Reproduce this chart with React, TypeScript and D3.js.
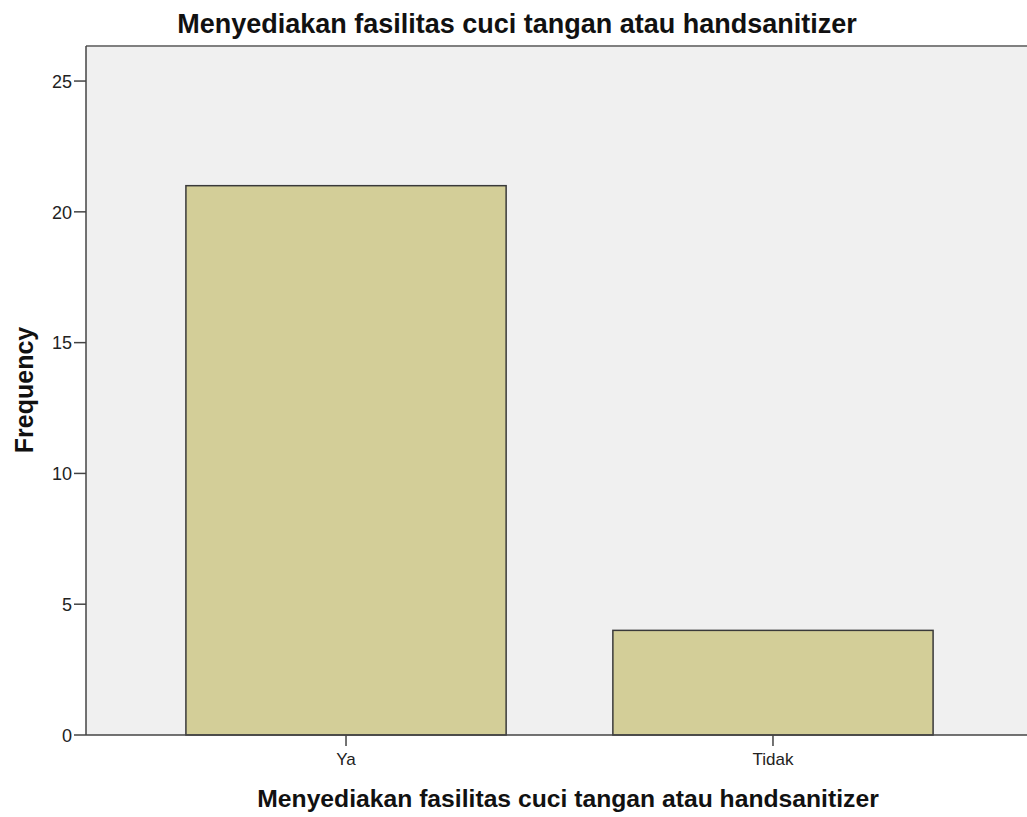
import React from 'react';
import * as d3 from 'd3';

const categories = ['Ya', 'Tidak'];
const counts = [21, 4];
const yTicks = [0, 5, 10, 15, 20, 25];

const W = 1027;
const H = 817;
const plot = { left: 86, top: 46, right: 1033, bottom: 735 };

export default function App() {
  const x = d3.scaleBand<string>()
    .domain(categories)
    .range([plot.left, plot.right])
    .paddingInner(0.25)
    .paddingOuter(0.234);

  const y = d3.scaleLinear()
    .domain([0, 26.34])
    .range([plot.bottom, plot.top]);

  const font = 'Arial, "Liberation Sans", sans-serif';

  return (
    <svg width={W} height={H} style={{ position: 'absolute', left: 0, top: 0 }}>
      <rect x={0} y={0} width={W} height={H} fill="#ffffff" />
      {/* plot background */}
      <rect x={plot.left} y={plot.top} width={W - plot.left} height={plot.bottom - plot.top} fill="#f0f0f0" />
      <line x1={plot.left} x2={W} y1={plot.top} y2={plot.top} stroke="#808080" strokeWidth={2} />

      {/* bars */}
      {categories.map((c, i) => (
        <rect
          key={c}
          x={x(c)}
          y={y(counts[i])}
          width={x.bandwidth()}
          height={y(0) - y(counts[i])}
          fill="#d3ce98"
          stroke="#3a3a3a"
          strokeWidth={1.5}
        />
      ))}

      {/* axes */}
      <line x1={plot.left} x2={plot.left} y1={plot.top} y2={plot.bottom} stroke="#444" strokeWidth={1.5} />
      <line x1={plot.left} x2={W} y1={plot.bottom} y2={plot.bottom} stroke="#444" strokeWidth={1.5} />

      {yTicks.map(t => (
        <g key={t}>
          <line x1={plot.left - 12} x2={plot.left} y1={y(t)} y2={y(t)} stroke="#444" strokeWidth={1.5} />
          <text x={plot.left - 14} y={y(t)} dy="0.38em" textAnchor="end" fontFamily={font} fontSize={18} fill="#222">{t}</text>
        </g>
      ))}

      {categories.map(c => {
        const cx = (x(c) ?? 0) + x.bandwidth() / 2;
        return (
          <g key={c}>
            <line x1={cx} x2={cx} y1={plot.bottom} y2={plot.bottom + 11} stroke="#444" strokeWidth={1.5} />
            <text x={cx} y={plot.bottom + 30} textAnchor="middle" fontFamily={font} fontSize={17} fill="#222">{c}</text>
          </g>
        );
      })}

      <text x={517} y={33} textAnchor="middle" fontFamily={font} fontSize={27} fontWeight="bold" fill="#111">
        Menyediakan fasilitas cuci tangan atau handsanitizer
      </text>
      <text x={568} y={807} textAnchor="middle" fontFamily={font} fontSize={24.7} fontWeight="bold" fill="#111">
        Menyediakan fasilitas cuci tangan atau handsanitizer
      </text>
      <text transform="translate(33,390) rotate(-90)" textAnchor="middle" fontFamily={font} fontSize={25} fontWeight="bold" fill="#111">
        Frequency
      </text>
    </svg>
  );
}
